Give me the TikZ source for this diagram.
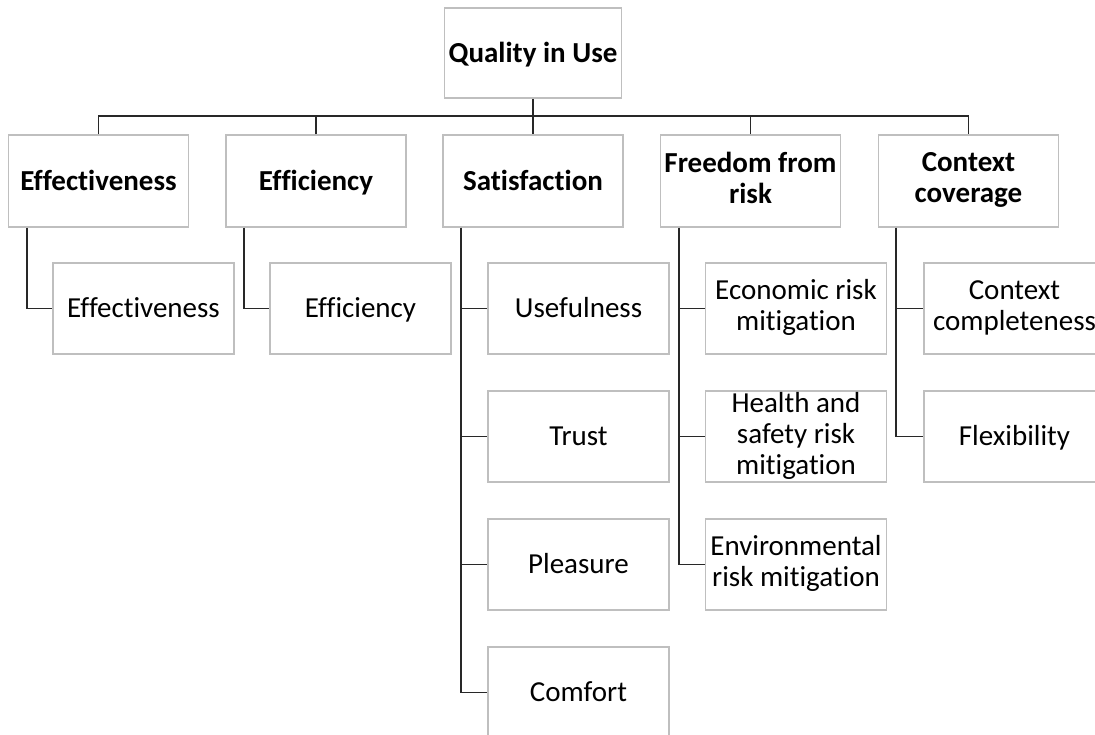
\documentclass[tikz,border=0pt]{standalone}
\usepackage{fontspec}
\setmainfont[Ligatures=NoCommon]{Carlito}
\usetikzlibrary{positioning}
\definecolor{boxgray}{RGB}{191,191,191}
\definecolor{linegray}{RGB}{40,40,40}
\newcommand\boxstrut{\vrule width 0pt height 0.8\baselineskip depth 0.2\baselineskip}
\tikzset{
    head/.style={draw=boxgray, line width=1.5pt, minimum width=180pt, minimum height=92pt,
        inner sep=0pt, align=center, font=\fontsize{29}{31}\selectfont\bfseries,
        execute at begin node=\boxstrut, execute at end node=\boxstrut},
    item/.style={head, minimum width=181pt, minimum height=91pt, font=\fontsize{29}{31}\selectfont},
    link/.style={draw=linegray, line width=1.7pt}
}
\begin{document}
\begin{tikzpicture}[x=1pt,y=-1pt]
    \useasboundingbox (0,0) rectangle (1095,734);
    \node[head, minimum width=177pt, minimum height=90pt] (quality) at (533,53) {Quality in Use};
    % first level
    \node[head] (effect) at (98.5,181) {Effectiveness};
    \node[head] (effici) at (316,181) {Efficiency};
    \node[head] (satis) at (533,181) {Satisfaction};
    \node[head] (freedom) at (750.5,181) {Freedom from\\risk};
    \node[head] (context) at (968.5,181) {Context\\coverage};
    % second level
    \node[item] (effect1) at (143.5,308.5) {Effectiveness};
    \node[item] (effici1) at (360.5,308.5) {Efficiency};
    \node[item] (useful) at (578.5,308.5) {Usefulness};
    \node[item] (trust) at (578.5,436.5) {Trust};
    \node[item] (pleasure) at (578.5,564.5) {Pleasure};
    \node[item] (comfort) at (578.5,692.5) {Comfort};
    \node[item] (econ) at (796,308.5) {Economic risk\\mitigation};
    \node[item] (health) at (796,436.5) {Health and\\safety risk\\mitigation};
    \node[item] (environ) at (796,564.5) {Environmental\\risk mitigation};
    \node[item] (complete) at (1014.5,308.5) {Context\\completeness};
    \node[item] (flexi) at (1014.5,436.5) {Flexibility};
    % tree lines
    \draw[link] (quality.south) -- (satis.north);
    \draw[link] (effect.north) -- ++(0,-18.5) -| (context.north);
    \draw[link] (effici.north) -- ++(0,-18.5);
    \draw[link] (freedom.north) -- ++(0,-18.5);
    \draw[link] ([xshift=19pt]effect.south west) |- (effect1.west);
    \draw[link] ([xshift=19pt]effici.south west) |- (effici1.west);
    \draw[link] ([xshift=19pt]satis.south west) |- (comfort.west);
    \draw[link] ([xshift=19pt]satis.south west) |- (useful.west);
    \draw[link] ([xshift=19pt]satis.south west) |- (trust.west);
    \draw[link] ([xshift=19pt]satis.south west) |- (pleasure.west);
    \draw[link] ([xshift=19pt]freedom.south west) |- (environ.west);
    \draw[link] ([xshift=19pt]freedom.south west) |- (econ.west);
    \draw[link] ([xshift=19pt]freedom.south west) |- (health.west);
    \draw[link] ([xshift=18pt]context.south west) |- (flexi.west);
    \draw[link] ([xshift=18pt]context.south west) |- (complete.west);
\end{tikzpicture}
\end{document}
